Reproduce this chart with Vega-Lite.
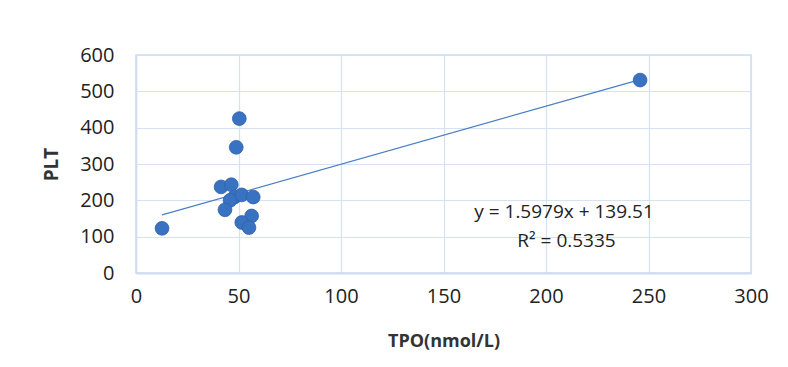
{
  "$schema": "https://vega.github.io/schema/vega-lite/v6.json",
  "width": 615,
  "height": 218,
  "autosize": {"type": "none"},
  "padding": {"left": 136, "top": 55, "right": 37, "bottom": 94},
  "background": "white",
  "config": {
    "view": {"stroke": "#cfdcf0", "strokeWidth": 1.5},
    "font": "Open Sans"
  },
  "datasets": {
    "pts": [
      {"TPO": 12.7, "PLT": 123},
      {"TPO": 50.4, "PLT": 425},
      {"TPO": 48.9, "PLT": 346},
      {"TPO": 41.5, "PLT": 237},
      {"TPO": 46.5, "PLT": 243},
      {"TPO": 48.1, "PLT": 209},
      {"TPO": 45.9, "PLT": 200},
      {"TPO": 51.6, "PLT": 215},
      {"TPO": 57.2, "PLT": 209},
      {"TPO": 43.4, "PLT": 174},
      {"TPO": 56.4, "PLT": 157},
      {"TPO": 51.6, "PLT": 139},
      {"TPO": 55.1, "PLT": 125},
      {"TPO": 245.9, "PLT": 531}
    ],
    "trend": [
      {"TPO": 12.7, "PLT": 159.8},
      {"TPO": 245.9, "PLT": 532.4}
    ],
    "labels": [
      {"TPO": 208.8, "PLT": 168, "text": "y = 1.5979x + 139.51"},
      {"TPO": 210, "PLT": 88, "text": "R² = 0.5335"}
    ]
  },
  "encoding": {
    "x": {
      "field": "TPO", "type": "quantitative",
      "scale": {"domain": [0, 300], "nice": false},
      "axis": {
        "title": "TPO(nmol/L)", "values": [0, 50, 100, 150, 200, 250, 300],
        "titleFont": "Open Sans", "titleFontSize": 18, "titleFontWeight": "bold", "titleColor": "#333333",
        "titlePadding": 26,
        "labelFont": "Open Sans", "labelFontSize": 20, "labelColor": "#222222", "labelPadding": 13,
        "labelOverlap": false, "labelFlush": false,
        "grid": true, "gridColor": "#d6e2f3", "gridWidth": 1.2,
        "domainColor": "#cfdcf0", "domainWidth": 2, "ticks": false
      }
    },
    "y": {
      "field": "PLT", "type": "quantitative",
      "scale": {"domain": [0, 600], "nice": false},
      "axis": {
        "title": "PLT", "values": [0, 100, 200, 300, 400, 500, 600],
        "titleFont": "Open Sans", "titleFontSize": 19, "titleFontWeight": "bold", "titleColor": "#333333",
        "titlePadding": 18,
        "labelFont": "Open Sans", "labelFontSize": 20, "labelColor": "#222222", "labelPadding": 22,
        "labelOverlap": false, "labelFlush": false,
        "grid": true, "gridColor": "#d6e2f3", "gridWidth": 1.2,
        "domainColor": "#cfdcf0", "domainWidth": 1.5, "ticks": false
      }
    }
  },
  "layer": [
    {
      "data": {"name": "trend"},
      "mark": {"type": "line", "color": "#4a7ec4", "strokeWidth": 1.2}
    },
    {
      "data": {"name": "pts"},
      "mark": {"type": "circle", "size": 190, "color": "#3a72c2", "opacity": 1, "stroke": "#2f62aa", "strokeWidth": 0.8}
    },
    {
      "data": {"name": "labels"},
      "mark": {"type": "text", "font": "Open Sans", "fontSize": 19, "color": "#222222", "align": "center", "baseline": "middle"},
      "encoding": {
        "text": {"field": "text"}
      }
    }
  ]
}
